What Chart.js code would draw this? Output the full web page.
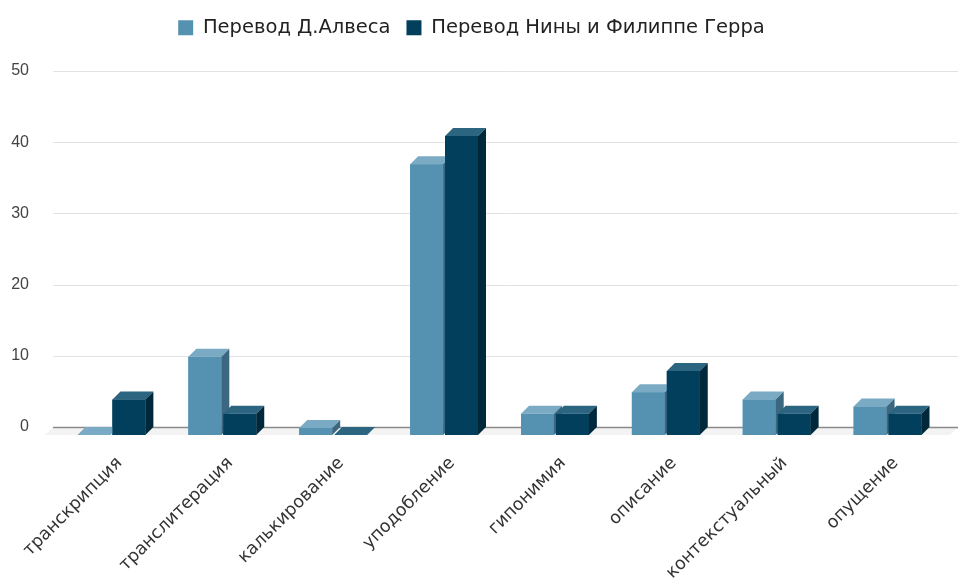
<!DOCTYPE html>
<html lang="ru">
<head>
<meta charset="UTF-8" />
<title>Способы перевода</title>
<script src="https://cdn.jsdelivr.net/npm/chart.js"></script>
<style>
    html, body { margin: 0; padding: 0; background: #fff; }
    #wrap { width: 958px; height: 579px; }
</style>
</head>
<body>
<div id="wrap"><canvas id="chart" width="958" height="579"></canvas></div>
<script>
    const categories = ['транскрипция', 'транслитерация', 'калькирование', 'уподобление',
        'гипонимия', 'описание', 'контекстуальный', 'опущение'];
    const alvesValues = [0, 11, 1, 38, 3, 6, 5, 4];
    const guerraValues = [5, 3, 0, 42, 3, 9, 3, 3];
    const seriesNames = ['Перевод Д.Алвеса', 'Перевод Нины и Филиппе Герра'];
    const yTicks = [0, 10, 20, 30, 40, 50];

    const DEPTH = 8;
    // front / top / side shades for each series
    const shades = [
        { front: '#5592b1', top: '#7aaac4', side: '#3b6880' },
        { front: '#013f5c', top: '#2c6580', side: '#00283b' }
    ];

    function quad(ctx, pts, color) {
        ctx.beginPath();
        ctx.moveTo(pts[0][0], pts[0][1]);
        for (let i = 1; i < pts.length; i++) ctx.lineTo(pts[i][0], pts[i][1]);
        ctx.closePath();
        ctx.fillStyle = color;
        ctx.fill();
    }

    // back wall grid + floor, shifted up-right by DEPTH
    const backWall = {
        id: 'backWall',
        beforeDatasetsDraw(chart) {
            const { ctx, chartArea, scales: { y } } = chart;
            const x0 = chartArea.left - 3;
            const x1 = chart.width;
            const y0 = y.getPixelForValue(0);
            ctx.save();
            quad(ctx, [[x0, y0 - DEPTH], [x1, y0 - DEPTH], [x1 - DEPTH, y0], [x0 - DEPTH, y0]], '#f3f3f3');
            yTicks.forEach(v => {
                const py = Math.round(y.getPixelForValue(v) - DEPTH) + 0.5;
                ctx.beginPath();
                ctx.moveTo(x0, py);
                ctx.lineTo(x1, py);
                ctx.lineWidth = v === 0 ? 1.5 : 1;
                ctx.strokeStyle = v === 0 ? '#8a8a8a' : '#e2e2e2';
                ctx.stroke();
            });
            ctx.restore();
        }
    };

    // extrude every bar into a box, category by category so overlaps stack correctly
    const boxes = {
        id: 'boxes',
        afterDatasetsDraw(chart) {
            const { ctx } = chart;
            const metas = chart.data.datasets.map((d, i) => chart.getDatasetMeta(i));
            ctx.save();
            categories.forEach((c, idx) => {
                metas.forEach((meta, di) => {
                    const el = meta.data[idx];
                    if (!el) return;
                    const p = el.getProps(['x', 'y', 'base', 'width'], true);
                    const l = p.x - p.width / 2, r = p.x + p.width / 2;
                    const t = Math.min(p.y, p.base), b = p.base;
                    const s = shades[di];
                    quad(ctx, [[l, t], [r, t], [r, b], [l, b]], s.front);
                    quad(ctx, [[l, t], [r, t], [r + DEPTH, t - DEPTH], [l + DEPTH, t - DEPTH]], s.top);
                    quad(ctx, [[r, t], [r + DEPTH, t - DEPTH], [r + DEPTH, b - DEPTH], [r, b]], s.side);
                });
            });
            ctx.restore();
        }
    };

    new Chart(document.getElementById('chart'), {
        type: 'bar',
        data: {
            labels: categories,
            datasets: [
                { label: seriesNames[0], data: alvesValues, backgroundColor: shades[0].front },
                { label: seriesNames[1], data: guerraValues, backgroundColor: shades[1].front }
            ]
        },
        options: {
            responsive: false,
            animation: false,
            categoryPercentage: 0.63,
            barPercentage: 0.943,
            layout: { padding: { top: 2, right: 15, left: 0, bottom: 0 } },
            plugins: {
                legend: {
                    position: 'top',
                    labels: {
                        boxWidth: 15,
                        boxHeight: 15,
                        padding: 16,
                        color: '#222',
                        font: { family: 'DejaVu Sans', size: 19.5 }
                    }
                },
                // empty block that keeps a gap between legend and plot
                subtitle: {
                    display: true,
                    text: '',
                    weight: 500,
                    padding: { top: 0, bottom: 17 },
                    font: { size: 12 }
                },
                tooltip: { enabled: false }
            },
            scales: {
                x: {
                    grid: { display: false },
                    border: { display: false },
                    ticks: {
                        minRotation: 45,
                        maxRotation: 45,
                        padding: 10,
                        labelOffset: 8,
                        color: '#333',
                        font: { family: 'DejaVu Sans', size: 17.5 }
                    },
                    afterFit(scale) { scale.height = 144; }
                },
                y: {
                    min: 0,
                    max: 50,
                    grid: { display: false, drawTicks: false },
                    border: { display: false },
                    ticks: {
                        stepSize: 10,
                        padding: 27,
                        labelOffset: -DEPTH,
                        color: '#444',
                        font: { family: 'Liberation Sans', size: 16 }
                    },
                    afterFit(scale) { scale.width = 56; }
                }
            }
        },
        plugins: [backWall, boxes]
    });
</script>
</body>
</html>
